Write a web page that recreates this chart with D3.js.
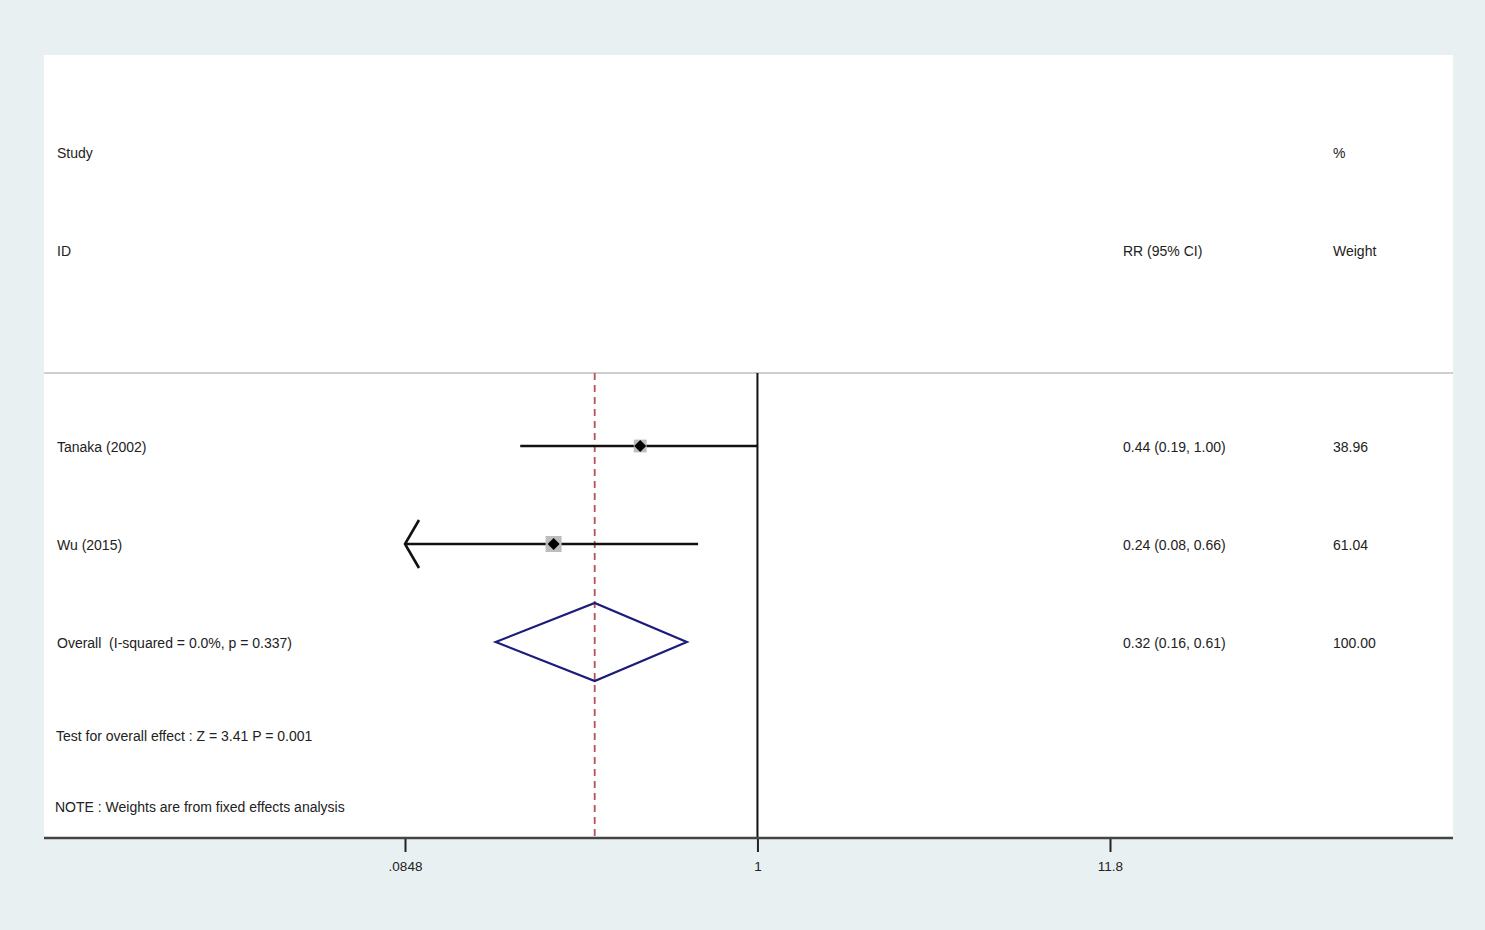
<!DOCTYPE html>
<html>
<head>
<meta charset="utf-8">
<script src="https://cdn.jsdelivr.net/npm/d3@7"></script>
<style>
  html, body { margin: 0; padding: 0; background: #e8f0f2; }
  svg { display: block; }
  text { font-family: "Liberation Sans", Arial, sans-serif; fill: #222; white-space: pre; }
</style>
</head>
<body>
<svg id="chart" width="1485" height="930"></svg>
<script>
// Study-level relative risks with 95% confidence intervals
const studies = ["Tanaka (2002)", "Wu (2015)"];
const rr = [0.44, 0.24];
const lower = [0.19, 0.08];
const upper = [1.00, 0.66];
const weights = ["38.96", "61.04"];

// Pooled (fixed effects) estimate
const overallLabel = "Overall  (I-squared = 0.0%, p = 0.337)";
const overall = { rr: 0.32, lo: 0.16, hi: 0.61, weight: "100.00" };

const axisTicks = [0.0848, 1, 11.8];
const axisTickLabels = [".0848", "1", "11.8"];

const svg = d3.select("#chart");
const W = 1485, H = 930;

// Panel bounds
const panel = { left: 44, right: 1453, top: 55, bottom: 838 };
const sepY = 373;

svg.append("rect").attr("width", W).attr("height", H).attr("fill", "#e8f0f2");
svg.append("rect")
  .attr("x", panel.left).attr("y", panel.top)
  .attr("width", panel.right - panel.left).attr("height", panel.bottom - panel.top)
  .attr("fill", "#ffffff");

const x = d3.scaleLog().domain([0.0848, 11.8]).range([405, 1110]);
const rowY = d3.scalePoint().domain([...studies, "Overall"]).range([446, 642]);

// Header separator
svg.append("line")
  .attr("x1", panel.left).attr("x2", panel.right)
  .attr("y1", sepY).attr("y2", sepY)
  .attr("stroke", "#cfcfcf").attr("stroke-width", 2);

// Null line at RR = 1
svg.append("line")
  .attr("x1", x(1)).attr("x2", x(1))
  .attr("y1", sepY).attr("y2", panel.bottom)
  .attr("stroke", "#111").attr("stroke-width", 2);

// Pooled estimate reference line
svg.append("line")
  .attr("x1", x(overall.rr)).attr("x2", x(overall.rr))
  .attr("y1", sepY).attr("y2", panel.bottom)
  .attr("stroke", "#b4545a").attr("stroke-width", 1.8)
  .attr("stroke-dasharray", "7,5");

// Confidence interval lines (clipped with an arrow when beyond axis)
const [xmin, xmax] = x.domain();
studies.forEach((s, i) => {
  const y = rowY(s);
  const lo = Math.max(lower[i], xmin), hi = Math.min(upper[i], xmax);
  svg.append("line")
    .attr("x1", x(lo)).attr("x2", x(hi))
    .attr("y1", y).attr("y2", y)
    .attr("stroke", "#111").attr("stroke-width", 2.6);
  if (lower[i] < xmin) {
    const ax = x(xmin);
    svg.append("path")
      .attr("d", `M${ax + 14},${y - 24} L${ax},${y} L${ax + 14},${y + 24}`)
      .attr("fill", "none").attr("stroke", "#111").attr("stroke-width", 2.6)
      .attr("stroke-linejoin", "miter");
  }
  // Weight box (area proportional to weight)
  const side = 2.05 * Math.sqrt(+weights[i]);
  svg.append("rect")
    .attr("x", x(rr[i]) - side / 2).attr("y", y - side / 2)
    .attr("width", side).attr("height", side)
    .attr("fill", "#bdbdbd");
  // Point estimate diamond
  const d = 6;
  svg.append("path")
    .attr("d", `M${x(rr[i])},${y - d} L${x(rr[i]) + d},${y} L${x(rr[i])},${y + d} L${x(rr[i]) - d},${y} Z`)
    .attr("fill", "#000");
});

// Pooled diamond
{
  const y = rowY("Overall"), h = 39;
  svg.append("path")
    .attr("d", `M${x(overall.lo)},${y} L${x(overall.rr)},${y - h} L${x(overall.hi)},${y} L${x(overall.rr)},${y + h} Z`)
    .attr("fill", "none").attr("stroke", "#1c1c7a").attr("stroke-width", 2.2)
    .attr("stroke-linejoin", "miter");
}

// Text columns
const fs = 14;
function txt(tx, ty, s, anchor = "start", size = fs) {
  svg.append("text").attr("x", tx).attr("y", ty)
    .attr("dy", "0.35em").attr("text-anchor", anchor)
    .attr("xml:space", "preserve")
    .attr("font-size", size).text(s);
}
txt(57, 153, "Study");
txt(57, 251, "ID");
txt(1333, 153, "%");
txt(1123, 251, "RR (95% CI)");
txt(1333, 251, "Weight");

const fmt = d3.format(".2f");
studies.forEach((s, i) => {
  const y = rowY(s);
  txt(57, y + 1, s);
  txt(1123, y + 1, `${fmt(rr[i])} (${fmt(lower[i])}, ${fmt(upper[i])})`);
  txt(1333, y + 1, weights[i]);
});
txt(57, rowY("Overall") + 1, overallLabel);
txt(1123, rowY("Overall") + 1, `${fmt(overall.rr)} (${fmt(overall.lo)}, ${fmt(overall.hi)})`);
txt(1333, rowY("Overall") + 1, overall.weight);

txt(56, 736, "Test for overall effect : Z = 3.41 P = 0.001");
txt(55, 807, "NOTE : Weights are from fixed effects analysis");

// X axis
const axis = d3.axisBottom(x)
  .tickValues(axisTicks)
  .tickFormat((d, i) => axisTickLabels[i])
  .tickSize(14).tickPadding(9);
const g = svg.append("g").attr("transform", `translate(0,${panel.bottom})`).call(axis);
g.select(".domain").remove();
g.selectAll(".tick line").attr("stroke", "#222").attr("stroke-width", 2);
g.selectAll(".tick text").attr("font-size", 13.5).attr("fill", "#222")
  .style("font-family", "'Liberation Sans', Arial, sans-serif");
svg.append("line")
  .attr("x1", panel.left).attr("x2", panel.right)
  .attr("y1", panel.bottom).attr("y2", panel.bottom)
  .attr("stroke", "#444").attr("stroke-width", 2.5);
</script>
</body>
</html>
